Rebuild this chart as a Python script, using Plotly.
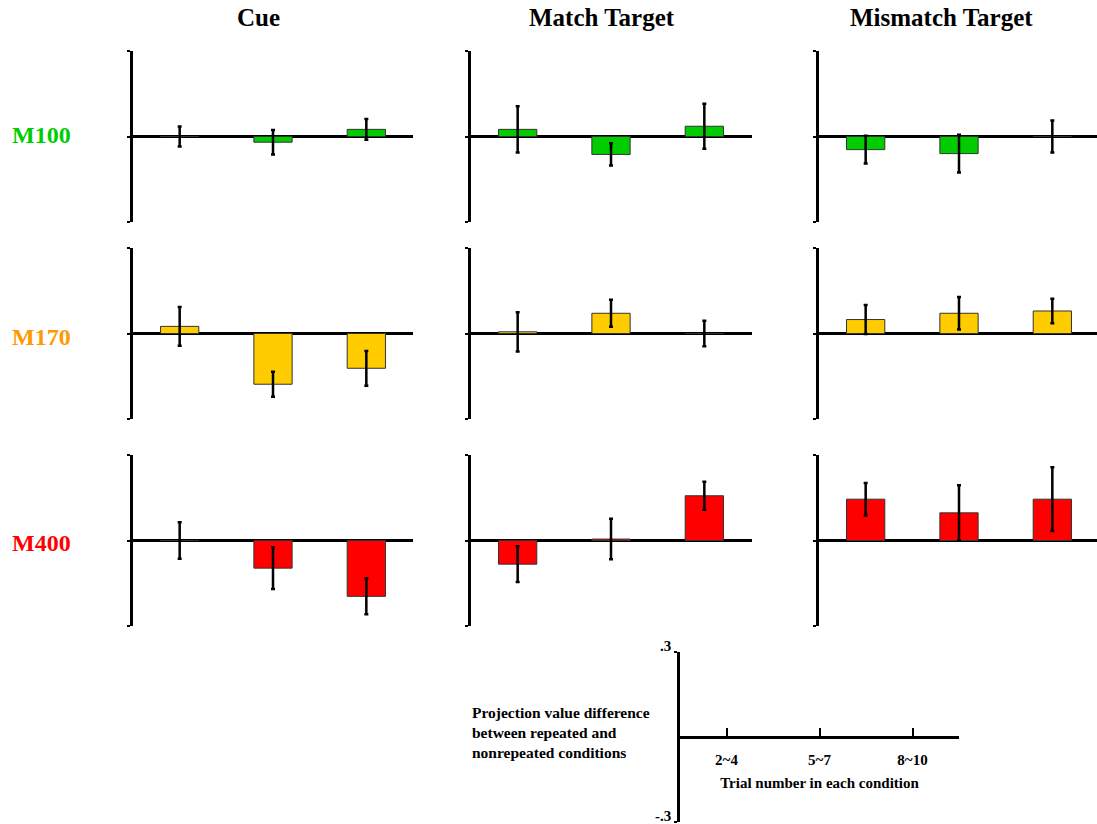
import plotly.graph_objects as go

W, H = 1097, 824

trial_bins = ["2~4", "5~7", "8~10"]
columns = ["Cue", "Match Target", "Mismatch Target"]
components = ["M100", "M170", "M400"]
component_colors = ["#00CC00", "#FFCC00", "#FF0000"]
label_colors = ["#00CC00", "#FF9900", "#FF0000"]

# projection value difference (repeated - nonrepeated) and error bars
m100_cue = [0.0, -0.020, 0.025]
m100_cue_err = [0.035, 0.043, 0.036]
m100_match = [0.025, -0.063, 0.036]
m100_match_err = [0.081, 0.039, 0.079]
m100_mismatch = [-0.046, -0.060, 0.0]
m100_mismatch_err = [0.049, 0.066, 0.056]

m170_cue = [0.025, -0.178, -0.122]
m170_cue_err = [0.068, 0.044, 0.061]
m170_match = [0.006, 0.071, 0.0]
m170_match_err = [0.069, 0.047, 0.045]
m170_mismatch = [0.049, 0.071, 0.079]
m170_mismatch_err = [0.051, 0.057, 0.043]

m400_cue = [0.0, -0.097, -0.196]
m400_cue_err = [0.064, 0.073, 0.063]
m400_match = [-0.083, 0.005, 0.157]
m400_match_err = [0.063, 0.071, 0.049]
m400_mismatch = [0.145, 0.097, 0.145]
m400_mismatch_err = [0.057, 0.097, 0.112]

values = [[m100_cue, m100_match, m100_mismatch],
          [m170_cue, m170_match, m170_mismatch],
          [m400_cue, m400_match, m400_mismatch]]
errors = [[m100_cue_err, m100_match_err, m100_mismatch_err],
          [m170_cue_err, m170_match_err, m170_mismatch_err],
          [m400_cue_err, m400_match_err, m400_mismatch_err]]

y_limits = [-0.3, 0.3]
y_tick_text = ["-.3", ".3"]

# layout geometry in pixels
col_px = [(133, 413), (471, 752), (819, 1097)]
row_px = [(51, 222), (248, 419), (455, 626)]
key_x_px = (680, 959)
key_y_px = (652, 822)
unit_px = (413 - 133) / 3.0

FONT = "Liberation Serif"


def xd(a, b):
    return [a / W, b / W]


def yd(top, bottom):
    return [1 - bottom / H, 1 - top / H]


fig = go.Figure()
layout = dict(width=W, height=H, autosize=False,
              margin=dict(l=0, r=0, t=0, b=0, pad=0, autoexpand=False),
              paper_bgcolor="white", plot_bgcolor="white",
              showlegend=False, bargap=0.59,
              font=dict(family=FONT, color="black"))

k = 0
for r in range(3):
    for c in range(3):
        k += 1
        xa = "x" if k == 1 else f"x{k}"
        ya = "y" if k == 1 else f"y{k}"
        fig.add_trace(go.Bar(
            x=trial_bins, y=values[r][c], xaxis=xa, yaxis=ya,
            marker=dict(color=component_colors[r], line=dict(color="#333333", width=1)),
            error_y=dict(type="data", array=errors[r][c], visible=True,
                         color="black", thickness=2.5, width=2),
            hoverinfo="skip"))
        x0, x1 = col_px[c]
        xr_end = -0.5 + (x1 - x0) / unit_px
        layout["xaxis" if k == 1 else f"xaxis{k}"] = dict(
            domain=xd(x0, x1), range=[-0.5, xr_end], anchor=ya,
            type="category", categoryarray=trial_bins, automargin=False,
            showline=False, showticklabels=False, ticks="", showgrid=False,
            zeroline=False, fixedrange=True)
        t, b = row_px[r]
        layout["yaxis" if k == 1 else f"yaxis{k}"] = dict(
            domain=yd(t, b), range=y_limits, anchor=xa, automargin=False,
            showline=True, linewidth=2.5, linecolor="black",
            ticks="outside", ticklen=3, tickwidth=2, tickcolor="black",
            tickvals=[y_limits[0], 0, y_limits[1]], showticklabels=False,
            zeroline=True, zerolinewidth=2.5, zerolinecolor="black",
            showgrid=False, fixedrange=True)

# key (legend) axes
fig.add_trace(go.Scatter(x=trial_bins, y=[None, None, None], xaxis="x10", yaxis="y10",
                         mode="markers", hoverinfo="skip"))
zero_key = (key_y_px[0] + key_y_px[1]) / 2.0
layout["xaxis10"] = dict(
    domain=xd(*key_x_px), range=[-0.5, 2.5], anchor="free",
    position=1 - zero_key / H, type="category", categoryarray=trial_bins,
    automargin=False,
    showline=True, linewidth=2.5, linecolor="black",
    ticks="inside", ticklen=8, tickwidth=1.5, tickcolor="black",
    tickfont=dict(family=FONT, size=15, weight="bold"), ticklabelstandoff=8,
    title=dict(text="Trial number in each condition",
               font=dict(family=FONT, size=15, weight="bold"), standoff=10),
    showgrid=False, zeroline=False, fixedrange=True)
layout["yaxis10"] = dict(
    domain=yd(*key_y_px), range=y_limits, anchor="x10", automargin=False,
    showline=True, linewidth=2.5, linecolor="black",
    ticks="outside", ticklen=3, tickwidth=2, tickcolor="black",
    tickvals=y_limits, ticktext=y_tick_text, ticklabeloverflow="allow",
    ticklabelshift=-6,
    tickfont=dict(family=FONT, size=15, weight="bold"),
    showgrid=False, zeroline=False, fixedrange=True)

annotations = []
title_x = [258, 602, 941]
for c, name in enumerate(columns):
    annotations.append(dict(text=name, x=title_x[c] / W, y=1 - 18 / H, xref="paper", yref="paper",
                            showarrow=False, xanchor="center", yanchor="middle",
                            font=dict(family=FONT, size=25, weight="bold", color="black")))
label_y = [135, 337, 543]
for r, name in enumerate(components):
    annotations.append(dict(text=name, x=41 / W, y=1 - label_y[r] / H, xref="paper", yref="paper",
                            showarrow=False, xanchor="center", yanchor="middle",
                            font=dict(family=FONT, size=24, weight="bold", color=label_colors[r])))
annotations.append(dict(
    text="Projection value difference<br>between repeated and<br>nonrepeated conditions",
    x=470 / W, y=1 - 732 / H, xref="paper", yref="paper", showarrow=False,
    xanchor="left", yanchor="middle", align="left",
    font=dict(family=FONT, size=15.5, weight="bold", color="black")))
layout["annotations"] = annotations

fig.update_layout(**layout)
fig.write_html("out.html", config={"displayModeBar": False},
               post_script="document.body.style.margin='0px';")
